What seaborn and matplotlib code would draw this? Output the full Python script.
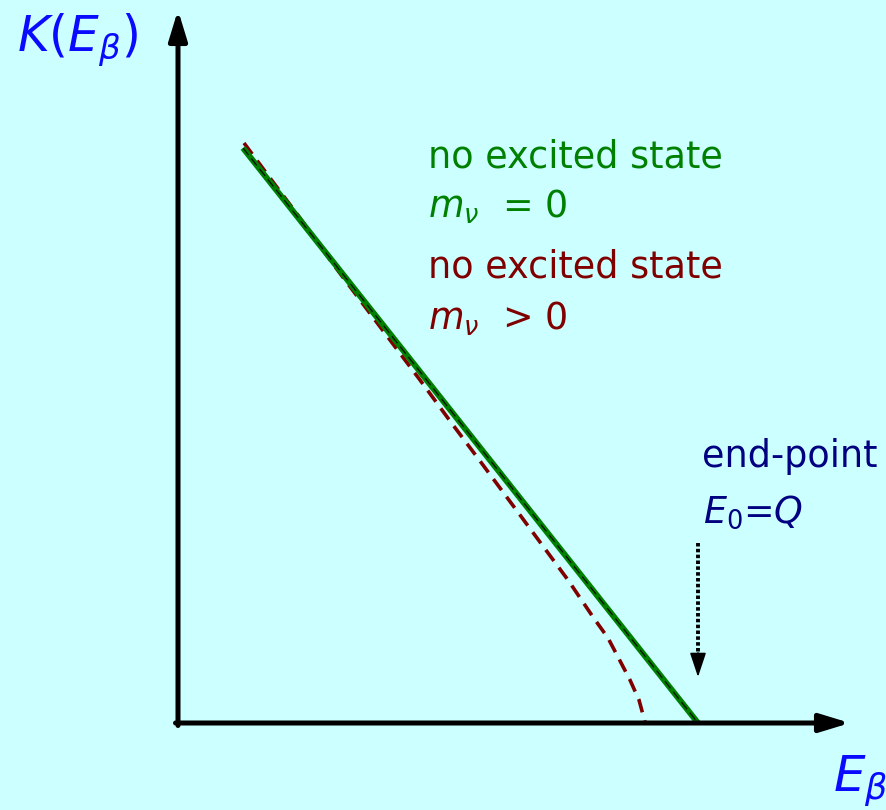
import matplotlib
matplotlib.use("Agg")
import matplotlib.pyplot as plt
import seaborn as sns
from matplotlib import font_manager

# Kurie plot near the beta end-point (arbitrary units, origin at the axes corner)
E_massless = [0.65, 5.20]
K_massless = [5.75, 0.00]

E_massive = [0.66, 0.95, 1.22, 1.55, 1.82, 2.12, 2.42, 2.75, 3.02, 3.42,
             3.90, 4.15, 4.30, 4.40, 4.52, 4.61, 4.67]
K_massive = [5.80, 5.41, 5.05, 4.59, 4.23, 3.83, 3.43, 2.98, 2.62, 2.08,
             1.43, 1.06, 0.85, 0.66, 0.43, 0.23, 0.01]

E0 = 5.20            # end-point energy
marker_top = 1.80    # start of the dotted end-point pointer
marker_tip = 0.46    # tip of the pointer
x_axis_end = 6.72
y_axis_end = 7.13

BG = "#ccffff"
GREEN = "#008000"
DARKRED = "#800000"
NAVY = "#000080"
BLUE = "#0a0aff"

sns.set_theme(style="white")
names = {f.name for f in font_manager.fontManager.ttflist}
body_family = "DejaVu Sans Condensed" if "DejaVu Sans Condensed" in names else "DejaVu Sans"
plt.rcParams["font.family"] = [body_family, "DejaVu Sans"]
plt.rcParams["mathtext.fontset"] = "dejavusans"

fig = plt.figure(figsize=(8.87, 8.10), dpi=100, facecolor=BG)
ax = fig.add_axes([0, 0, 1, 1])
ax.set_facecolor(BG)
ax.set_xlim(-1.78, 7.09)
ax.set_ylim(-0.87, 7.23)
ax.axis("off")

# curves
sns.lineplot(x=E_massive, y=K_massive, ax=ax, color=DARKRED, lw=2.6,
             linestyle=(0, (3.8, 2.3)), sort=False, estimator=None, zorder=2)
sns.lineplot(x=E_massless, y=K_massless, ax=ax, color=GREEN, lw=4.3,
             sort=False, estimator=None, zorder=3, solid_capstyle="butt")
sns.lineplot(x=E_massless, y=K_massless, ax=ax, color="black", lw=0.8,
             linestyle=(0, (8, 4)), sort=False, estimator=None, zorder=4)

# axes with arrowheads
axis_arrow = dict(arrowstyle="-|>,head_length=1.8,head_width=0.55", lw=3.6,
                  color="black", mutation_scale=10, shrinkA=0, shrinkB=0)
ax.annotate("", xy=(0, y_axis_end), xytext=(0, -0.025), arrowprops=axis_arrow, zorder=5)
ax.annotate("", xy=(x_axis_end, 0), xytext=(-0.025, 0), arrowprops=axis_arrow, zorder=5)

# dotted pointer to the end-point
ax.plot([E0, E0], [marker_top, 0.66], color="black", lw=2.8,
        linestyle=(0, (0.9, 0.6)), zorder=5)
ax.annotate("", xy=(E0, marker_tip), xytext=(E0, 0.70),
            arrowprops=dict(arrowstyle="-|>,head_length=1.5,head_width=0.5",
                            lw=1.2, color="black", mutation_scale=10,
                            shrinkA=0, shrinkB=0), zorder=5)

# labels
T = ax.transAxes
ax.text(0.019, 0.9358, r"$K(E_{\beta})$", transform=T, fontsize=35,
        color=BLUE, va="baseline", ha="left")
ax.text(0.939, 0.0222, r"$E_{\beta}$", transform=T, fontsize=36,
        color=BLUE, va="baseline", ha="left")

fs = 26.3
ax.text(0.4825, 0.7938, "no excited state", transform=T, fontsize=fs,
        color=GREEN, va="baseline")
ax.text(0.4825, 0.7309, r"$m_{\nu}$  = 0", transform=T, fontsize=fs,
        color=GREEN, va="baseline")
ax.text(0.4825, 0.6580, "no excited state", transform=T, fontsize=fs,
        color=DARKRED, va="baseline")
ax.text(0.4825, 0.5926, r"$m_{\nu}$  > 0", transform=T, fontsize=fs,
        color=DARKRED, va="baseline")
ax.text(0.7914, 0.4235, "end-point", transform=T, fontsize=fs,
        color=NAVY, va="baseline")
ax.text(0.7926, 0.3543, r"$E_0$=$Q$", transform=T, fontsize=fs,
        color=NAVY, va="baseline")

fig.savefig("out.png", dpi=100, facecolor=BG)
